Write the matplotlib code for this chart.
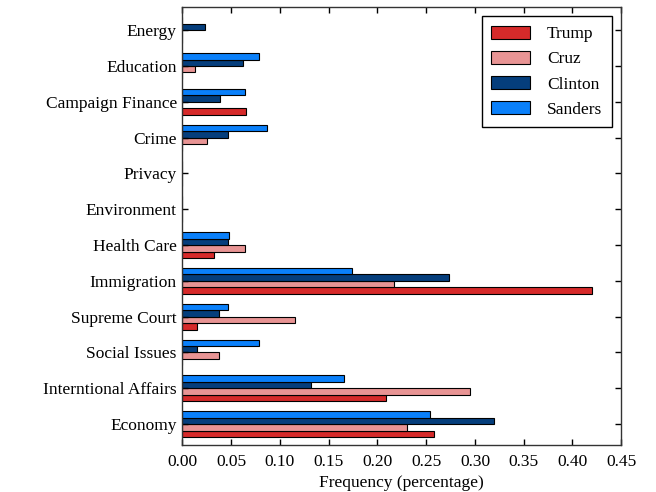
import numpy as np
import matplotlib
matplotlib.use("Agg")
import matplotlib.pyplot as plt

topics = ["Energy", "Education", "Campaign Finance", "Crime", "Privacy",
          "Environment", "Health Care", "Immigration", "Supreme Court",
          "Social Issues", "Interntional Affairs", "Economy"]

trump = [0.0, 0.0, 0.065, 0.0, 0.0, 0.0, 0.032, 0.420, 0.015, 0.0, 0.209, 0.258]
cruz = [0.0, 0.013, 0.0, 0.025, 0.0, 0.0, 0.064, 0.217, 0.115, 0.038, 0.295, 0.230]
clinton = [0.023, 0.062, 0.039, 0.047, 0.0, 0.0, 0.047, 0.273, 0.038, 0.015, 0.132, 0.320]
sanders = [0.0, 0.079, 0.064, 0.087, 0.0, 0.0, 0.048, 0.174, 0.047, 0.079, 0.166, 0.254]

series = [("Trump", trump, "#d62a2a"),
          ("Cruz", cruz, "#e89494"),
          ("Clinton", clinton, "#053e7c"),
          ("Sanders", sanders, "#0a80fa")]

plt.rcParams["font.family"] = ["Liberation Serif", "DejaVu Serif"]
plt.rcParams["font.size"] = 12.5

fig = plt.figure(figsize=(6.56, 4.92), dpi=100)
ax = fig.add_axes([0.278, 0.095, 0.669, 0.891])

y = np.arange(len(topics))
h = 0.18
offsets = [1.5 * h, 0.5 * h, -0.5 * h, -1.5 * h]

for (name, vals, col), off in zip(series, offsets):
    ax.barh(y + off, vals, height=h, color=col, edgecolor="black",
            linewidth=0.8, label=name)

ax.set_yticks(y)
ax.set_yticklabels(topics)
ax.set_ylim(11.59, -0.65)
ax.set_xlim(0, 0.45)
ax.set_xticks(np.arange(0, 0.451, 0.05))
ax.set_xticklabels([f"{v:.2f}" for v in np.arange(0, 0.451, 0.05)])
ax.tick_params(direction="in", length=4, width=1, top=True, right=True)
ax.tick_params(axis="x", pad=6)
ax.tick_params(axis="y", pad=4)
for sp in ax.spines.values():
    sp.set_linewidth(1)
    sp.set_color("#333333")

ax.set_xlabel("Frequency (percentage)", labelpad=4)

leg = ax.legend(loc="upper right", borderaxespad=0.55,
                fancybox=False, edgecolor="black", framealpha=1,
                handlelength=2.2, handleheight=0.75, labelspacing=0.5,
                borderpad=0.55, handletextpad=1.0)
leg.get_frame().set_linewidth(1)

fig.savefig("out.png", dpi=100)
